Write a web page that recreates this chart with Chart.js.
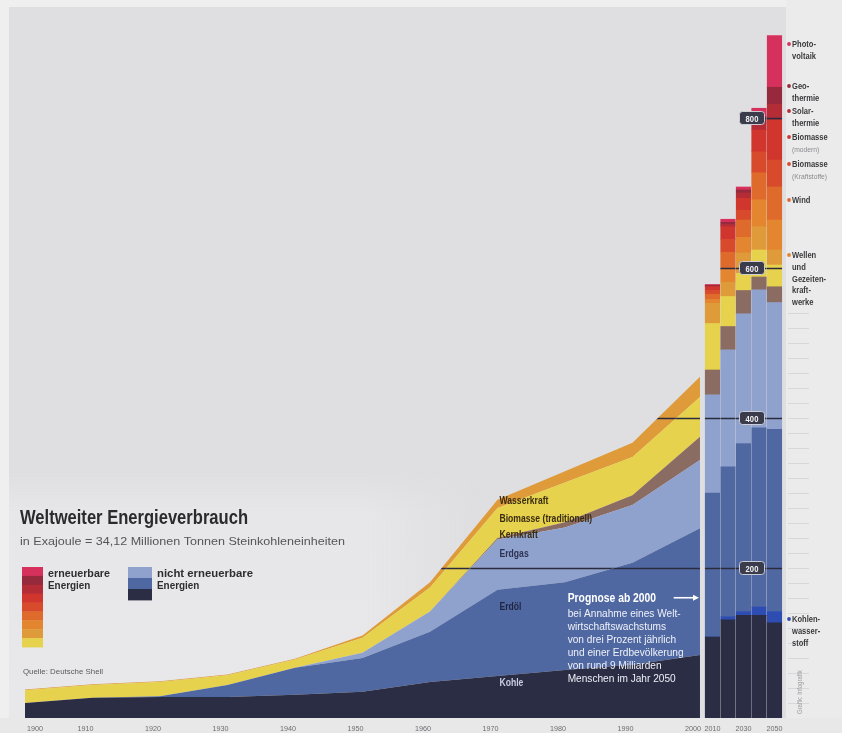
<!DOCTYPE html>
<html lang="de">
<head>
<meta charset="utf-8">
<title>Weltweiter Energieverbrauch</title>
<script src="https://cdn.jsdelivr.net/npm/chart.js@4.4.1/dist/chart.umd.min.js"></script>
<style>
  html, body { margin: 0; padding: 0; background: #dfdfe1; }
  #stage { position: relative; width: 842px; height: 733px; overflow: hidden; background: #dfdfe1; }
  .pane { position: absolute; }
  #chart { position: absolute; left: 0; top: 0; }
</style>
</head>
<body>
<div id="stage">
  <div class="pane" style="left:0;top:0;width:842px;height:7px;background:#efeff0"></div>
  <div class="pane" style="left:0;top:0;width:9px;height:733px;background:#efeff0"></div>
  <div class="pane" style="left:9px;top:470px;width:470px;height:248px;background:linear-gradient(180deg, rgba(232,232,234,0) 0px, #e7e7e9 45px, #e8e8ea 100%);-webkit-mask-image:linear-gradient(90deg,#000 75%,transparent);mask-image:linear-gradient(90deg,#000 75%,transparent)"></div>
  <div class="pane" style="left:786px;top:0;width:56px;height:733px;background:#ebebec"></div>
  <div class="pane" style="left:0;top:718px;width:842px;height:15px;background:#e8e8e9"></div>
  <canvas id="chart" width="842" height="733"></canvas>
</div>
<script>
// Years: measured history (stacked areas) and Shell forecast (stacked columns)
const histYears = [1900, 1910, 1920, 1930, 1940, 1950, 1960, 1970, 1980, 1990, 2000];
const projYears = [2010, 2020, 2030, 2040, 2050];

// Consumption in exajoules, first 11 values = history, last 5 = forecast
const kohle               = [20, 27, 28, 28, 31, 35, 48, 56, 64, 71, 84,   108, 131, 137, 137, 127];
const kohlenwasserstoff   = [0, 0, 0, 0, 0, 0, 0, 0, 0, 0, 0,             0, 4, 5, 11, 15];
const erdoel              = [0, 0, 1, 16, 36, 45, 67, 115, 117, 136, 169, 192, 200, 224, 239, 243];
const erdgas              = [0, 0, 0, 0, 0, 7, 27, 67, 73, 77, 91,        131, 156, 173, 184, 169];
const kernkraft           = [0, 0, 0, 0, 0, 0, 0, 2, 7, 13, 31,           33, 31, 31, 17, 21];
const biomasseTrad        = [17, 17, 19, 13, 11, 20, 32, 40, 53, 51, 53,  62, 40, 23, 36, 29];
const wasserkraft         = [1, 1, 1, 1, 1, 3, 7, 11, 15, 19, 27,         27, 19, 27, 31, 20];
const wellenGezeiten      = [0, 0, 0, 0, 0, 0, 0, 0, 0, 0, 0,             5, 17, 21, 36, 40];
const wind                = [0, 0, 0, 0, 0, 0, 0, 0, 0, 0, 0,             7, 23, 23, 36, 44];
const biomasseKraftstoffe = [0, 0, 0, 0, 0, 0, 0, 0, 0, 0, 0,             5, 17, 13, 28, 36];
const biomasseModern      = [0, 0, 0, 0, 0, 0, 0, 0, 0, 0, 0,             5, 17, 16, 29, 53];
const solarthermie        = [0, 0, 0, 0, 0, 0, 0, 0, 0, 0, 0,             1, 3, 7, 9, 21];
const geothermie          = [0, 0, 0, 0, 0, 0, 0, 0, 0, 0, 0,             1, 3, 4, 9, 23];
const photovoltaik        = [0, 0, 0, 0, 0, 0, 0, 0, 0, 0, 0,             1, 4, 4, 11, 69];

// Reference lines with value boxes
const gridValues = [200, 400, 600, 800];
const decadeTicks = [1900, 1910, 1920, 1930, 1940, 1950, 1960, 1970, 1980, 1990, 2000];
const forecastTicks = [2010, 2030, 2050];

const C = {
  kohle: '#2b2d45', khw: '#2e4db3', oel: '#5068a2', gas: '#8fa1cd', kern: '#8a6c62',
  bioTrad: '#e6d24c', wasser: '#df9a3a', wellen: '#e3862f', wind: '#de6a2c',
  bioKraft: '#d84a2c', bioMod: '#d0362e', solar: '#b42c35', geo: '#962a3c', pv: '#d5315c'
};

// Stacking order, bottom to top
const layers = [
  { label: 'Kohle', values: kohle, color: C.kohle },
  { label: 'Kohlenwasserstoff', values: kohlenwasserstoff, color: C.khw },
  { label: 'Erdöl', values: erdoel, color: C.oel },
  { label: 'Erdgas', values: erdgas, color: C.gas },
  { label: 'Kernkraft', values: kernkraft, color: C.kern },
  { label: 'Biomasse (traditionell)', values: biomasseTrad, color: C.bioTrad },
  { label: 'Wasserkraft', values: wasserkraft, color: C.wasser },
  { label: 'Wellen- und Gezeitenkraftwerke', values: wellenGezeiten, color: C.wellen },
  { label: 'Wind', values: wind, color: C.wind },
  { label: 'Biomasse (Kraftstoffe)', values: biomasseKraftstoffe, color: C.bioKraft },
  { label: 'Biomasse (modern)', values: biomasseModern, color: C.bioMod },
  { label: 'Solarthermie', values: solarthermie, color: C.solar },
  { label: 'Geothermie', values: geothermie, color: C.geo },
  { label: 'Photovoltaik', values: photovoltaik, color: C.pv }
];

const SANS = '"Liberation Sans", Arial, sans-serif';

const areaSets = layers.map((l, i) => ({
  type: 'line',
  label: l.label,
  xAxisID: 'x',
  yAxisID: 'y',
  data: histYears.map((yr, k) => ({ x: yr, y: l.values[k] })),
  backgroundColor: l.color,
  borderColor: 'rgba(0,0,0,0)',
  borderWidth: 0,
  pointRadius: 0,
  tension: 0,
  fill: i === 0 ? 'origin' : '-1'
}));

// One column per forecast year; all layers share a single stack
const barSets = layers.map(l => ({
  type: 'bar',
  label: l.label + ' (Prognose)',
  xAxisID: 'x2',
  yAxisID: 'y',
  stack: 'prognose',
  grouped: false,
  data: projYears.map((yr, k) => ({ x: yr, y: l.values[histYears.length + k] })),
  backgroundColor: l.color,
  borderWidth: 0,
  barThickness: 14.5
}));

// Text with optional horizontal compression (condensed look)
function put(ctx, s, x, y, font, color, align, k) {
  k = k || 1;
  ctx.save();
  ctx.font = font;
  ctx.fillStyle = color;
  ctx.textBaseline = 'alphabetic';
  ctx.textAlign = 'left';
  const w = ctx.measureText(s).width * k;
  let x0 = x;
  if (align === 'center') x0 = x - w / 2;
  else if (align === 'right') x0 = x - w;
  ctx.translate(x0, y);
  ctx.scale(k, 1);
  ctx.fillText(s, 0, 0);
  ctx.restore();
}

// Text squeezed to an exact width
function putFit(ctx, s, x, y, font, color, width) {
  ctx.save();
  ctx.font = font;
  const k = width / ctx.measureText(s).width;
  ctx.restore();
  put(ctx, s, x, y, font, color, 'left', k);
}

function roundRect(ctx, x, y, w, h, r) {
  ctx.beginPath();
  ctx.moveTo(x + r, y);
  ctx.lineTo(x + w - r, y);
  ctx.quadraticCurveTo(x + w, y, x + w, y + r);
  ctx.lineTo(x + w, y + h - r);
  ctx.quadraticCurveTo(x + w, y + h, x + w - r, y + h);
  ctx.lineTo(x + r, y + h);
  ctx.quadraticCurveTo(x, y + h, x, y + h - r);
  ctx.lineTo(x, y + r);
  ctx.quadraticCurveTo(x, y, x + r, y);
  ctx.closePath();
}

// Horizontal reference lines, painted only over the filled areas and columns
const gridPlugin = {
  id: 'gridOverData',
  afterDatasetsDraw(chart) {
    const { ctx, chartArea: ca, scales } = chart;
    ctx.save();
    ctx.globalCompositeOperation = 'source-atop';
    ctx.strokeStyle = '#2a2c3e';
    ctx.lineWidth = 1.3;
    gridValues.forEach(v => {
      const y = Math.round(scales.y.getPixelForValue(v)) + 0.5;
      ctx.beginPath();
      ctx.moveTo(ca.left, y);
      ctx.lineTo(ca.right, y);
      ctx.stroke();
    });
    ctx.restore();
  }
};

const areaNotes = [
  { text: 'Wasserkraft', v: 285, color: '#3a2c12' },
  { text: 'Biomasse (traditionell)', v: 261, color: '#3a2c12' },
  { text: 'Kernkraft', v: 240, color: '#3a2c12' },
  { text: 'Erdgas', v: 215, color: '#2c3352' },
  { text: 'Erdöl', v: 144, color: '#1f2540' },
  { text: 'Kohle', v: 43, color: '#c9cde0' }
];

const forecastText = [
  'bei Annahme eines Welt-',
  'wirtschaftswachstums',
  'von drei Prozent jährlich',
  'und einer Erdbevölkerung',
  'von rund 9 Milliarden',
  'Menschen im Jahr 2050'
];

const sideNotes = [
  { lines: ['Photo-', 'voltaik'], y: 47, color: C.pv },
  { lines: ['Geo-', 'thermie'], y: 89, color: C.geo },
  { lines: ['Solar-', 'thermie'], y: 114, color: C.solar },
  { lines: ['Biomasse', '(modern)'], y: 140, color: C.bioMod, sub: true },
  { lines: ['Biomasse', '(Kraftstoffe)'], y: 167, color: C.bioKraft, sub: true },
  { lines: ['Wind'], y: 203, color: C.wind },
  { lines: ['Wellen', 'und', 'Gezeiten-', 'kraft-', 'werke'], y: 258, color: C.wellen },
  { lines: ['Kohlen-', 'wasser-', 'stoff'], y: 622, color: C.khw }
];

const textPlugin = {
  id: 'annotations',
  afterDraw(chart) {
    const { ctx, chartArea: ca, scales } = chart;
    const sx = scales.x, sx2 = scales.x2, sy = scales.y;
    ctx.save();

    // value boxes on the reference lines
    gridValues.forEach(v => {
      const y = sy.getPixelForValue(v);
      const cx = ca.right - 31;
      roundRect(ctx, cx - 12.5, y - 6.5, 25, 13, 3);
      ctx.fillStyle = '#3a3b4b';
      ctx.fill();
      ctx.strokeStyle = 'rgba(215,215,222,0.9)';
      ctx.lineWidth = 1;
      ctx.stroke();
      put(ctx, String(v), cx, y + 3.5, 'bold 9px ' + SANS, '#f2f2f4', 'center', 0.85);
    });

    // faint scale ruler at the right edge
    ctx.strokeStyle = 'rgba(150,150,158,0.22)';
    ctx.lineWidth = 1;
    for (let v = 20; v <= 540; v += 20) {
      const y = Math.round(sy.getPixelForValue(v)) + 0.5;
      ctx.beginPath();
      ctx.moveTo(ca.right + 5, y);
      ctx.lineTo(ca.right + 26, y);
      ctx.stroke();
    }

    // labels inside the areas
    const nx = sx.getPixelForValue(1970.3);
    areaNotes.forEach(n => put(ctx, n.text, nx, sy.getPixelForValue(n.v), 'bold 10px ' + SANS, n.color, 'left', 0.86));

    // forecast note
    const fx = sx.getPixelForValue(1980.4);
    const fy = sy.getPixelForValue(155);
    put(ctx, 'Prognose ab 2000', fx, fy, 'bold 12px ' + SANS, '#ffffff', 'left', 0.86);
    ctx.strokeStyle = '#ffffff';
    ctx.fillStyle = '#ffffff';
    ctx.lineWidth = 1.6;
    const ay = fy - 4;
    const ax0 = fx + 106, ax1 = sx.getPixelForValue(2000) - 1;
    ctx.beginPath(); ctx.moveTo(ax0, ay); ctx.lineTo(ax1 - 5, ay); ctx.stroke();
    ctx.beginPath(); ctx.moveTo(ax1, ay); ctx.lineTo(ax1 - 6, ay - 3); ctx.lineTo(ax1 - 6, ay + 3); ctx.closePath(); ctx.fill();
    forecastText.forEach((s, i) => put(ctx, s, fx, fy + 15 + i * 13, '11px ' + SANS, '#eef1f8', 'left', 0.92));

    // side labels for the forecast layers
    sideNotes.forEach(n => {
      ctx.fillStyle = n.color;
      ctx.beginPath();
      ctx.arc(ca.right + 6, n.y - 3, 1.9, 0, Math.PI * 2);
      ctx.fill();
      n.lines.forEach((s, i) => {
        const isSub = n.sub && i > 0;
        put(ctx, s, ca.right + 9, n.y + i * 11.8,
            isSub ? '8px ' + SANS : 'bold 9px ' + SANS,
            isSub ? '#8a8a8e' : '#3a3a3c', 'left', 0.84);
      });
    });

    // title block
    putFit(ctx, 'Weltweiter Energieverbrauch', 20, 524, 'bold 21px ' + SANS, '#2b2b2e', 228);
    putFit(ctx, 'in Exajoule = 34,12 Millionen Tonnen Steinkohleneinheiten', 20, 545, '11px ' + SANS, '#55555a', 325);

    // legend: renewable block
    const renew = [C.pv, C.geo, C.solar, C.bioMod, C.bioKraft, C.wind, C.wellen, C.wasser, C.bioTrad];
    const sq = 80 / renew.length;
    renew.forEach((c, i) => {
      ctx.fillStyle = c;
      ctx.fillRect(22, 567 + i * sq, 21, sq + 0.4);
    });
    putFit(ctx, 'erneuerbare', 48, 577, 'bold 11px ' + SANS, '#2e2e30', 62);
    put(ctx, 'Energien', 48, 589, 'bold 11px ' + SANS, '#2e2e30', 'left', 0.9);

    // legend: non-renewable block
    [C.gas, C.oel, C.kohle].forEach((c, i) => {
      ctx.fillStyle = c;
      ctx.fillRect(128, 567 + i * 11, 24, 11.4);
    });
    putFit(ctx, 'nicht erneuerbare', 157, 577, 'bold 11px ' + SANS, '#2e2e30', 96);
    put(ctx, 'Energien', 157, 589, 'bold 11px ' + SANS, '#2e2e30', 'left', 0.9);

    putFit(ctx, 'Quelle: Deutsche Shell', 23, 674, '8px ' + SANS, '#5a5a5e', 80);

    // x-axis year labels
    const ly = 731;
    decadeTicks.forEach(yr => {
      if (yr === 1900) {
        put(ctx, String(yr), ca.left + 2, ly, '8px ' + SANS, '#6e6e72', 'left', 0.9);
      } else {
        put(ctx, String(yr), sx.getPixelForValue(yr) - 7, ly, '8px ' + SANS, '#6e6e72', 'center', 0.9);
      }
    });
    forecastTicks.forEach(yr => {
      put(ctx, String(yr), sx2.getPixelForValue(yr), ly, '8px ' + SANS, '#6e6e72', 'center', 0.9);
    });

    // vertical credit line
    ctx.save();
    ctx.translate(ca.right + 19, 714);
    ctx.rotate(-Math.PI / 2);
    put(ctx, 'Grafik: Infografik', 0, 0, '7px ' + SANS, '#9c9ca0', 'left', 0.85);
    ctx.restore();

    ctx.restore();
  }
};

new Chart(document.getElementById('chart').getContext('2d'), {
  type: 'line',
  data: { datasets: [...areaSets, ...barSets] },
  options: {
    responsive: false,
    animation: false,
    events: [],
    layout: { padding: { left: 25, right: 59, top: 13, bottom: 15 } },
    plugins: { legend: { display: false }, tooltip: { enabled: false } },
    scales: {
      x: { type: 'linear', min: 1900, max: 2012.3, display: false, offset: false },
      x2: { type: 'linear', min: 1566.5, max: 2055.5, display: false, offset: false, stacked: true },
      y: { type: 'linear', min: 0, max: 940, display: false, stacked: true }
    }
  },
  plugins: [gridPlugin, textPlugin]
});
</script>
</body>
</html>
